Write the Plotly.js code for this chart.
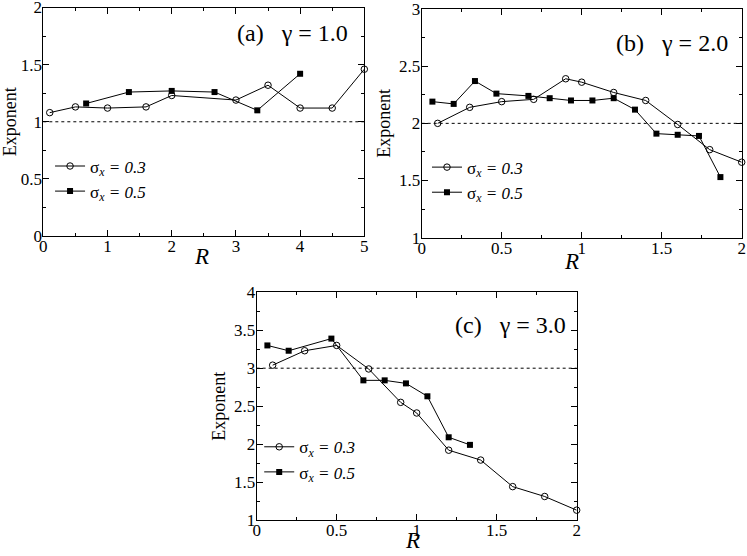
<!DOCTYPE html>
<html>
<head>
<meta charset="utf-8">
<script src="https://cdn.plot.ly/plotly-3.0.1.min.js"></script>
<style>
  html, body { margin: 0; padding: 0; background: #fff; }
  #chart { width: 747px; height: 556px; }
</style>
</head>
<body>
<div id="chart"></div>
<script>
// panel (a) gamma = 1.0
const rA03 = [0.1, 0.5, 1.0, 1.6, 2.0, 3.0, 3.5, 4.0, 4.5, 5.0];
const expA03 = [1.08, 1.13, 1.12, 1.13, 1.23, 1.19, 1.32, 1.12, 1.12, 1.46];
const rA05 = [0.667, 1.333, 2.0, 2.667, 3.333, 4.0];
const expA05 = [1.16, 1.26, 1.27, 1.26, 1.10, 1.42];

// panel (b) gamma = 2.0
const rB03 = [0.1, 0.3, 0.5, 0.7, 0.9, 1.0, 1.2, 1.4, 1.6, 1.8, 2.0];
const expB03 = [2.0, 2.14, 2.19, 2.21, 2.39, 2.36, 2.27, 2.20, 1.99, 1.77, 1.66];
const rB05 = [0.067, 0.2, 0.333, 0.467, 0.667, 0.8, 0.933, 1.067, 1.2, 1.333, 1.467, 1.6, 1.733, 1.867];
const expB05 = [2.19, 2.17, 2.37, 2.26, 2.24, 2.22, 2.20, 2.20, 2.22, 2.12, 1.91, 1.90, 1.89, 1.53];

// panel (c) gamma = 3.0
const rC03 = [0.1, 0.3, 0.5, 0.7, 0.9, 1.0, 1.2, 1.4, 1.6, 1.8, 2.0];
const expC03 = [3.04, 3.23, 3.30, 2.99, 2.55, 2.41, 1.92, 1.79, 1.44, 1.31, 1.13];
const rC05 = [0.067, 0.2, 0.467, 0.667, 0.8, 0.933, 1.067, 1.2, 1.333];
const expC05 = [3.30, 3.23, 3.39, 2.84, 2.84, 2.80, 2.63, 2.09, 1.99];

const gammas = [1.0, 2.0, 3.0];
const panelLabels = ['(a)', '(b)', '(c)'];
const seriesNames = ['σ<sub><i>x</i></sub><i> = 0.3</i>', 'σ<sub><i>x</i></sub><i> = 0.5</i>'];

const FONT = 'Liberation Serif';

function series(x, y, name, open, xa, ya, legend) {
    return {
        x: x, y: y, name: name,
        xaxis: xa, yaxis: ya, legend: legend,
        mode: 'lines+markers', type: 'scatter',
        line: { color: 'black', width: 1 },
        marker: open
            ? { symbol: 'circle-open', size: 6.5, color: 'black', line: { width: 1 } }
            : { symbol: 'square', size: 6, color: 'black' },
        cliponaxis: false
    };
}

function axis(range, dtick, minor, domain, anchor, title, standoff) {
    const ax = {
        range: range, domain: domain, anchor: anchor,
        tick0: 0, dtick: dtick,
        ticks: 'inside', ticklen: 6, tickwidth: 1, tickcolor: 'black',
        minor: { dtick: minor, ticks: 'inside', ticklen: 3, tickwidth: 1, tickcolor: 'black' },
        showline: true, linecolor: 'black', linewidth: 1, mirror: 'ticks',
        showgrid: false, zeroline: false,
        ticklabeloverflow: 'allow', ticklabelstandoff: title ? -3 : -5,
        tickfont: { family: FONT, size: 17, color: 'black' },
        fixedrange: true
    };
    if (title) {
        ax.title = { text: title, font: { family: FONT, size: 18, color: 'black' }, standoff: standoff };
    }
    return ax;
}

const data = [
    series(rA03, expA03, seriesNames[0], true, 'x', 'y', 'legend'),
    series(rA05, expA05, seriesNames[1], false, 'x', 'y', 'legend'),
    series(rB03, expB03, seriesNames[0], true, 'x2', 'y2', 'legend2'),
    series(rB05, expB05, seriesNames[1], false, 'x2', 'y2', 'legend2'),
    series(rC03, expC03, seriesNames[0], true, 'x3', 'y3', 'legend3'),
    series(rC05, expC05, seriesNames[1], false, 'x3', 'y3', 'legend3')
];

const legendStyle = (x, y) => ({
    x: x, y: y, xanchor: 'left', yanchor: 'top',
    bgcolor: 'rgba(0,0,0,0)',
    font: { family: FONT, size: 17, color: 'black' },
    tracegroupgap: 0, itemwidth: 30
});

// panel label positions (axis-domain fractions) and R-label placement below the x axis
const labelPos = [[0.955, 0.888], [0.963, 0.85], [0.974, 0.856]];
const rPosX = [0.493, 0.469, 0.488];
const rShift = [-20, -24, -20];

const annotations = [];
gammas.forEach((g, i) => {
    const s = i === 0 ? '' : String(i + 1);
    annotations.push({
        xref: 'x' + s + ' domain', yref: 'y' + s + ' domain',
        x: labelPos[i][0], y: labelPos[i][1], xanchor: 'right', yanchor: 'middle',
        showarrow: false,
        text: panelLabels[i] + '&nbsp;&nbsp;&nbsp;γ = ' + g.toFixed(1),
        font: { family: FONT, size: 24, color: 'black' }
    });
    // x-axis title "R"
    annotations.push({
        xref: 'x' + s + ' domain', yref: 'y' + s + ' domain',
        x: rPosX[i], y: 0, xanchor: 'center', yanchor: 'middle', yshift: rShift[i],
        showarrow: false,
        text: '<i>R</i>',
        font: { family: FONT, size: 23, color: 'black' }
    });
});

const layout = {
    width: 747, height: 556,
    margin: { l: 0, r: 0, t: 0, b: 0 },
    font: { family: FONT, color: 'black' },
    paper_bgcolor: 'white', plot_bgcolor: 'white',
    showlegend: true,
    xaxis: axis([0, 5], 1, 0.5, [0.058, 0.4877], 'y'),
    yaxis: axis([0, 2], 0.5, 0.25, [0.5755, 0.9865], 'x', 'Exponent', 4),
    xaxis2: axis([0, 2], 0.5, 0.25, [0.5645, 0.9929], 'y2'),
    yaxis2: axis([1, 3], 0.5, 0.25, [0.5725, 0.9838], 'x2', 'Exponent', 3),
    xaxis3: axis([0, 2], 0.5, 0.25, [0.3436, 0.772], 'y3'),
    yaxis3: axis([1, 4], 0.5, 0.25, [0.0647, 0.4743], 'x3', 'Exponent', 3),
    legend: legendStyle(0.067, 0.733),
    legend2: legendStyle(0.5716, 0.731),
    legend3: legendStyle(0.347, 0.228),
    shapes: gammas.map((g, i) => {
        const s = i === 0 ? '' : String(i + 1);
        return {
            type: 'line', xref: 'x' + s + ' domain', yref: 'y' + s,
            x0: 0, x1: 1, y0: g, y1: g,
            line: { color: 'black', width: 1, dash: 'dot' }
        };
    }),
    annotations: annotations
};

Plotly.newPlot('chart', data, layout, { displayModeBar: false, staticPlot: true });
</script>
</body>
</html>
